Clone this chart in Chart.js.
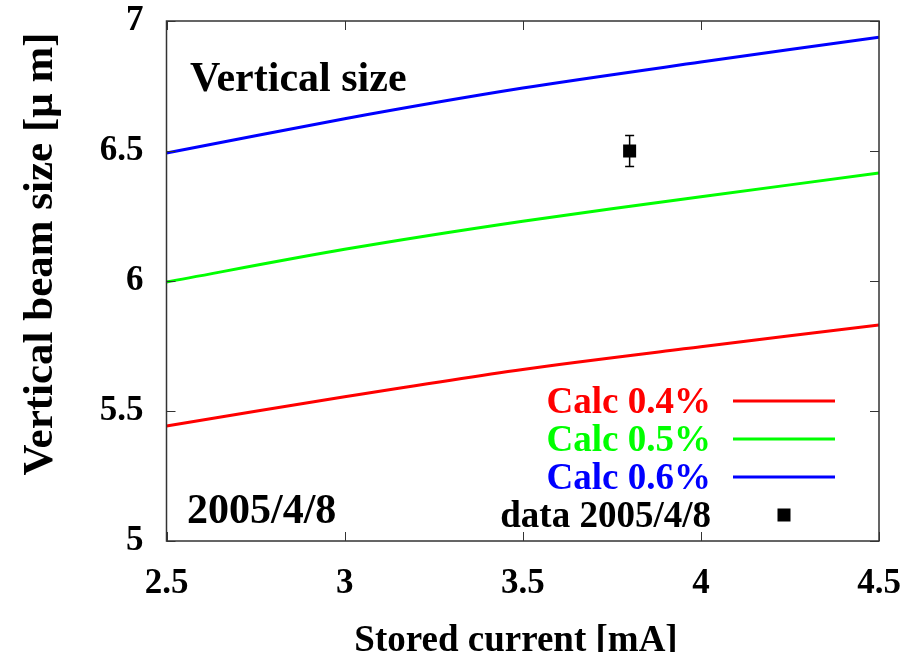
<!DOCTYPE html>
<html>
<head>
<meta charset="utf-8">
<script src="https://cdn.jsdelivr.net/npm/chart.js@4/dist/chart.umd.min.js"></script>
<style>
html,body{margin:0;padding:0;background:#fff;}
canvas{display:block;}
</style>
</head>
<body>
<canvas id="c" width="924" height="652"></canvas>
<script>
// ---- data ----
const currents = [2.5, 3.0, 3.5, 4.0, 4.5];           // Stored current [mA]
const calc04 = [5.442, 5.555, 5.660, 5.747, 5.831];   // Calc 0.4%
const calc05 = [5.996, 6.122, 6.230, 6.324, 6.415];   // Calc 0.5%
const calc06 = [6.492, 6.624, 6.742, 6.842, 6.938];   // Calc 0.6%
const dataX = [3.8];
const dataY = [6.50];
const dataErr = [0.06];
const seriesLabels = ['Calc 0.4%', 'Calc 0.5%', 'Calc 0.6%', 'data 2005/4/8'];
const xTicks = [2.5, 3, 3.5, 4, 4.5];
const yTicks = [5, 5.5, 6, 6.5, 7];
const xTitle = 'Stored current [mA]';
const yTitle = 'Vertical beam size [\u03bc m]';
const insideTitle = 'Vertical size';
const insideDate = '2005/4/8';

const FONT = '"Liberation Serif", "Times New Roman", serif';
const pts = (xs, ys) => xs.map((x, i) => ({x: x, y: ys[i]}));

const decor = {
  id: 'decor',
  afterDatasetsDraw(chart) {
    const ctx = chart.ctx;
    const xs = chart.scales.x, ys = chart.scales.y;
    const a = chart.chartArea;
    ctx.save();
    // error bars
    ctx.strokeStyle = '#000';
    ctx.lineWidth = 1.5;
    dataX.forEach((x, i) => {
      const px = xs.getPixelForValue(x);
      const top = ys.getPixelForValue(dataY[i] + dataErr[i]);
      const bot = ys.getPixelForValue(dataY[i] - dataErr[i]);
      ctx.beginPath();
      ctx.moveTo(px, top); ctx.lineTo(px, bot);
      ctx.moveTo(px - 4.5, top); ctx.lineTo(px + 4.5, top);
      ctx.moveTo(px - 4.5, bot); ctx.lineTo(px + 4.5, bot);
      ctx.stroke();
    });
    // frame
    ctx.strokeStyle = '#333';
    ctx.lineWidth = 1.5;
    ctx.strokeRect(a.left, a.top, a.right - a.left, a.bottom - a.top);
    // inward ticks
    ctx.lineWidth = 1;
    const tl = 9;
    xTicks.forEach(v => {
      const px = Math.round(xs.getPixelForValue(v)) + 0.5;
      ctx.beginPath();
      ctx.moveTo(px, a.bottom); ctx.lineTo(px, a.bottom - tl);
      ctx.moveTo(px, a.top); ctx.lineTo(px, a.top + tl);
      ctx.stroke();
    });
    yTicks.forEach(v => {
      const py = Math.round(ys.getPixelForValue(v)) + 0.5;
      ctx.beginPath();
      ctx.moveTo(a.left, py); ctx.lineTo(a.left + tl, py);
      ctx.moveTo(a.right, py); ctx.lineTo(a.right - tl, py);
      ctx.stroke();
    });
    // legend
    ctx.font = 'bold 37px ' + FONT;
    ctx.textAlign = 'right';
    ctx.textBaseline = 'middle';
    const rows = [401, 439, 477, 515];
    chart.data.datasets.forEach((ds, i) => {
      const y = rows[i];
      ctx.fillStyle = ds.legendTextColor;
      ctx.fillText(ds.label, 711, y + 2);
      if (ds.showLine) {
        ctx.strokeStyle = ds.borderColor;
        ctx.lineWidth = 3;
        ctx.beginPath();
        ctx.moveTo(733, y); ctx.lineTo(835, y);
        ctx.stroke();
      } else {
        ctx.fillStyle = '#000';
        ctx.fillRect(784 - 6.5, y - 6.5, 13, 13);
      }
    });
    // inner labels
    ctx.fillStyle = '#000';
    ctx.textAlign = 'left';
    ctx.textBaseline = 'alphabetic';
    ctx.font = 'bold 42px ' + FONT;
    ctx.fillText(insideTitle, 190, 91);
    ctx.fillText(insideDate, 187, 523);
    // axis titles
    ctx.font = 'bold 37px ' + FONT;
    ctx.textAlign = 'center';
    ctx.fillText(xTitle, 516, 651);
    ctx.save();
    ctx.translate(52, 254);
    ctx.rotate(-Math.PI / 2);
    ctx.font = 'bold 43px ' + FONT;
    ctx.fillText(yTitle, 0, 0);
    ctx.restore();
    ctx.restore();
  }
};

new Chart(document.getElementById('c'), {
  type: 'scatter',
  data: {
    datasets: [
      {label: seriesLabels[0], data: pts(currents, calc04), showLine: true, borderColor: '#ff0000', legendTextColor: '#ff0000', borderWidth: 3, pointRadius: 0, tension: 0.3},
      {label: seriesLabels[1], data: pts(currents, calc05), showLine: true, borderColor: '#00ff00', legendTextColor: '#00ff00', borderWidth: 3, pointRadius: 0, tension: 0.3},
      {label: seriesLabels[2], data: pts(currents, calc06), showLine: true, borderColor: '#0000ff', legendTextColor: '#0000ff', borderWidth: 3, pointRadius: 0, tension: 0.3},
      {label: seriesLabels[3], data: pts(dataX, dataY), showLine: false, pointStyle: 'rect', pointRadius: 9.2, backgroundColor: '#000', borderColor: '#000', borderWidth: 0, legendTextColor: '#000'}
    ]
  },
  options: {
    responsive: false,
    animation: false,
    events: [],
    layout: {padding: {top: 21, right: 45, left: 0, bottom: 0}},
    plugins: {legend: {display: false}, tooltip: {enabled: false}},
    scales: {
      x: {
        type: 'linear', min: 2.5, max: 4.5,
        afterFit: s => { s.height = 111; s.paddingLeft = 0; s.paddingRight = 0; },
        afterBuildTicks: s => { s.ticks = xTicks.map(v => ({value: v})); },
        grid: {display: false, drawTicks: false},
        border: {display: false},
        ticks: {padding: 22, color: '#000', font: {family: FONT, size: 35, weight: 'bold'}, callback: v => String(v)}
      },
      y: {
        type: 'linear', min: 5, max: 7,
        afterFit: s => { s.width = 166.5; s.paddingTop = 0; s.paddingBottom = 0; },
        afterBuildTicks: s => { s.ticks = yTicks.map(v => ({value: v})); },
        grid: {display: false, drawTicks: false},
        border: {display: false},
        ticks: {padding: 23, color: '#000', font: {family: FONT, size: 35, weight: 'bold'}, callback: v => String(v)}
      }
    }
  },
  plugins: [decor]
});
</script>
</body>
</html>
